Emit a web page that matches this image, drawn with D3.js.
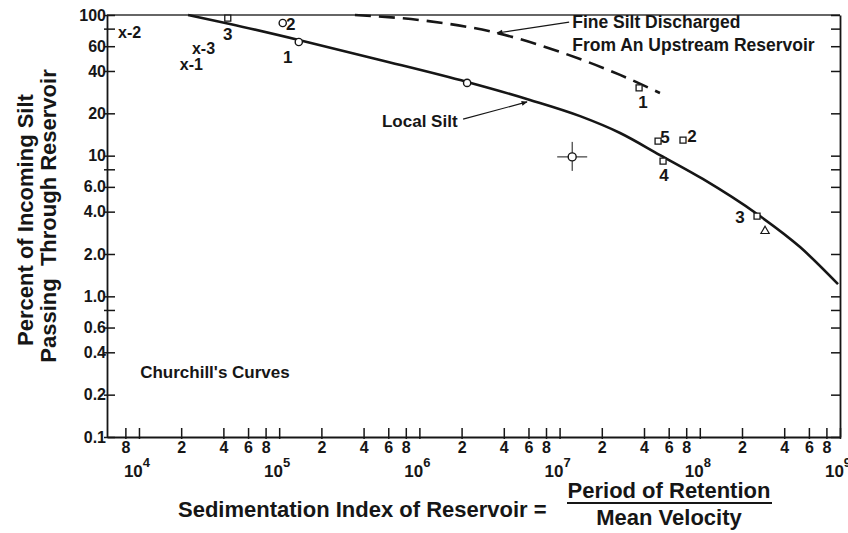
<!DOCTYPE html>
<html>
<head>
<meta charset="utf-8">
<script src="https://cdn.jsdelivr.net/npm/d3@7"></script>
<style>
  body { margin: 0; background: #fff; }
  text { font-family: "Liberation Sans", Arial, Helvetica, sans-serif; fill: #161616; }
</style>
</head>
<body>
<svg id="chart" width="848" height="533"></svg>
<script>
// ---- data ----
var yTicks = [100, 80, 60, 40, 20, 10, 8, 6, 4, 2, 1, 0.8, 0.6, 0.4, 0.2, 0.1];
var yTickText = ["100", "", "60", "40", "20", "10", "", "6.0", "4.0", "2.0", "1.0", "", "0.6", "0.4", "0.2", "0.1"];
var xMinorTicks = [8e3, 2e4, 4e4, 6e4, 8e4, 2e5, 4e5, 6e5, 8e5, 2e6, 4e6, 6e6, 8e6,
                   2e7, 4e7, 6e7, 8e7, 2e8, 4e8, 6e8, 8e8];
var xMinorText = ["8", "2", "4", "6", "8", "2", "4", "6", "8", "2", "4", "6", "8",
                  "2", "4", "6", "8", "2", "4", "6", "8"];
var xDecades = [1e4, 1e5, 1e6, 1e7, 1e8, 1e9];
var xDecadeExp = ["4", "5", "6", "7", "8", "9"];

// Local Silt curve (solid)
var localSiltX = [2.24e4, 4.46e4, 1.38e5, 5.24e5, 2.19e6, 6.15e6, 1.40e7, 2.70e7, 5.2e7, 1.05e8, 2.56e8, 5.19e8, 9.68e8];
var localSiltY = [100, 86.3, 66.4, 47.9, 33.4, 24.9, 19.1, 14.5, 10.1, 6.83, 3.85, 2.24, 1.22];

// Fine silt discharged from an upstream reservoir (dashed)
var fineSiltX = [3.47e5, 1.01e6, 3.58e6, 1.01e7, 2.70e7, 5.2e7];
var fineSiltY = [100, 92, 74.5, 54.6, 37.5, 27.9];

// observed reservoirs
var squareX = [4.3e4, 3.69e7, 5.04e7, 7.59e7, 5.47e7, 2.56e8];
var squareY = [95, 30.3, 12.7, 12.9, 9.16, 3.72];
var squareLabel = ["3", "1", "5", "2", "4", "3"];

var circleX = [1.06e5, 1.38e5, 2.19e6];
var circleY = [87.7, 64.3, 32.9];
var circleLabel = ["2", "1", ""];

var crossX = [1.23e7];
var crossY = [9.8];

var triangleX = [2.92e8];
var triangleY = [2.91];

var xMarkX = [7.57e3, 2.55e4, 2.09e4];
var xMarkY = [74.3, 57.3, 44.1];
var xMarkLabel = ["x-2", "x-3", "x-1"];

// label placement (pixel offsets from each marker)
var squareLabelOffset = [[0, 22], [4, 20], [7, 2], [9, 2], [1, 20], [-17, 7]];
var circleLabelOffset = [[8, 7], [-11, 21], [0, 0]];

// ---- chart ----
var svg = d3.select("#chart");
var plotLeft = 107, plotRight = 840, plotTop = 15, plotBottom = 437;

var x = d3.scaleLog().domain([Math.pow(10, 3.772), 1e9]).range([plotLeft, plotRight]);
var y = d3.scaleLog().domain([0.1, 100]).range([plotBottom, plotTop]);

var ink = "#161616";

// frame: top line
svg.append("line")
  .attr("x1", plotLeft).attr("x2", plotRight).attr("y1", y(100)).attr("y2", y(100))
  .attr("stroke", "#333").attr("stroke-width", 1.5);

// left axis
var yAxis = d3.axisLeft(y).tickValues(yTicks)
  .tickFormat(function(d, i) { return yTickText[i]; })
  .tickSizeInner(-8).tickSizeOuter(0).tickPadding(1);
var gy = svg.append("g").attr("transform", "translate(" + plotLeft + ",0)").call(yAxis);
gy.selectAll("text").style("font-size", "16px").style("font-weight", "bold").attr("fill", ink)
  .style("font-family", "'Liberation Sans', Arial, sans-serif");
gy.selectAll("line").attr("stroke", ink).attr("stroke-width", 1.5).attr("x1", -3);
gy.select(".domain").attr("stroke", ink).attr("stroke-width", 1.8);

// right axis (ticks only)
var yAxisR = d3.axisRight(y).tickValues(yTicks).tickFormat("")
  .tickSizeInner(-9).tickSizeOuter(0);
var gr = svg.append("g").attr("transform", "translate(" + plotRight + ",0)").call(yAxisR);
gr.selectAll("line").attr("stroke", ink).attr("stroke-width", 1.5);
gr.select(".domain").attr("stroke", ink).attr("stroke-width", 1.8);

// bottom axis
var xAxis = d3.axisBottom(x).tickValues(xMinorTicks.concat(xDecades))
  .tickFormat(function(d) {
    var i = xMinorTicks.indexOf(d);
    return i >= 0 ? xMinorText[i] : "";
  })
  .tickSizeInner(-9).tickSizeOuter(0).tickPadding(5);
var gx = svg.append("g").attr("transform", "translate(0," + plotBottom + ")").call(xAxis);
gx.selectAll("text").style("font-size", "16px").style("font-weight", "bold").attr("fill", ink)
  .style("font-family", "'Liberation Sans', Arial, sans-serif");
gx.selectAll("line").attr("stroke", ink).attr("stroke-width", 1.5).attr("y1", 2);
gx.select(".domain").attr("stroke", ink).attr("stroke-width", 1.8);

// decade labels 10^n
var dec = svg.append("g").selectAll("text").data(xDecades).enter().append("text")
  .attr("x", function(d) { return x(d) - 2; })
  .attr("y", 477)
  .attr("text-anchor", "middle")
  .style("font-size", "17px").style("font-weight", "bold");
dec.append("tspan").text("10");
dec.append("tspan").attr("dy", -10).style("font-size", "13px")
  .text(function(d, i) { return xDecadeExp[i]; });

// curves
var line = d3.line()
  .x(function(d) { return x(d[0]); })
  .y(function(d) { return y(d[1]); })
  .curve(d3.curveMonotoneX);

svg.append("path")
  .datum(d3.zip(localSiltX, localSiltY))
  .attr("d", line)
  .attr("fill", "none").attr("stroke", ink).attr("stroke-width", 2.6);

svg.append("path")
  .datum(d3.zip(fineSiltX, fineSiltY))
  .attr("d", line)
  .attr("fill", "none").attr("stroke", ink).attr("stroke-width", 2.6)
  .attr("stroke-dasharray", "16,8");

// squares
var squares = d3.zip(squareX, squareY, squareLabel, squareLabelOffset);
svg.append("g").selectAll("path").data(squares).enter().append("path")
  .attr("d", d3.symbol().type(d3.symbolSquare).size(36))
  .attr("transform", function(d) { return "translate(" + x(d[0]) + "," + y(d[1]) + ")"; })
  .attr("fill", "#fff").attr("stroke", ink).attr("stroke-width", 1.3);
svg.append("g").selectAll("text").data(squares).enter().append("text")
  .attr("x", function(d) { return x(d[0]) + d[3][0]; })
  .attr("y", function(d) { return y(d[1]) + d[3][1]; })
  .attr("text-anchor", "middle")
  .style("font-size", "17px").style("font-weight", "bold")
  .text(function(d) { return d[2]; });

// circles
var circles = d3.zip(circleX, circleY, circleLabel, circleLabelOffset);
svg.append("g").selectAll("circle").data(circles).enter().append("circle")
  .attr("cx", function(d) { return x(d[0]); })
  .attr("cy", function(d) { return y(d[1]); })
  .attr("r", 3.6)
  .attr("fill", "#fff").attr("stroke", ink).attr("stroke-width", 1.4);
svg.append("g").selectAll("text").data(circles).enter().append("text")
  .attr("x", function(d) { return x(d[0]) + d[3][0]; })
  .attr("y", function(d) { return y(d[1]) + d[3][1]; })
  .attr("text-anchor", "middle")
  .style("font-size", "17px").style("font-weight", "bold")
  .text(function(d) { return d[2]; });

// circle with cross hairs
var cross = svg.append("g").selectAll("g").data(d3.zip(crossX, crossY)).enter().append("g")
  .attr("transform", function(d) { return "translate(" + x(d[0]) + "," + y(d[1]) + ")"; });
cross.append("line").attr("x1", -15).attr("x2", 15).attr("stroke", ink).attr("stroke-width", 1);
cross.append("line").attr("y1", -15).attr("y2", 14).attr("stroke", ink).attr("stroke-width", 1);
cross.append("circle").attr("r", 4).attr("fill", "#fff").attr("stroke", ink).attr("stroke-width", 1.4);

// triangle
svg.append("g").selectAll("path").data(d3.zip(triangleX, triangleY)).enter().append("path")
  .attr("d", d3.symbol().type(d3.symbolTriangle).size(30))
  .attr("transform", function(d) { return "translate(" + x(d[0]) + "," + y(d[1]) + ")"; })
  .attr("fill", "#fff").attr("stroke", ink).attr("stroke-width", 1.2);

// x-marked points
svg.append("g").selectAll("text").data(d3.zip(xMarkX, xMarkY, xMarkLabel)).enter().append("text")
  .attr("x", function(d) { return x(d[0]) - 4; })
  .attr("y", function(d) { return y(d[1]) + 5; })
  .style("font-size", "16px").style("font-weight", "bold")
  .text(function(d) { return d[2]; });

// annotations
svg.append("defs").append("marker")
  .attr("id", "arrow").attr("viewBox", "0 0 10 10").attr("refX", 9).attr("refY", 5)
  .attr("markerWidth", 6).attr("markerHeight", 5).attr("orient", "auto")
  .append("path").attr("d", "M0,1 L10,5 L0,9 Z").attr("fill", ink);

svg.append("line")
  .attr("x1", x(1.17e7)).attr("y1", y(89.1)).attr("x2", x(3.58e6)).attr("y2", y(74.5))
  .attr("stroke", ink).attr("stroke-width", 1.2).attr("marker-end", "url(#arrow)");
svg.append("text").attr("x", x(1.23e7)).attr("y", y(80.8))
  .style("font-size", "17.5px").style("font-weight", "bold").text("Fine Silt Discharged");
svg.append("text").attr("x", x(1.23e7)).attr("y", y(55.5))
  .style("font-size", "17.5px").style("font-weight", "bold").text("From An Upstream Reservoir");

svg.append("line")
  .attr("x1", x(2.05e6)).attr("y1", y(18.2)).attr("x2", x(5.86e6)).attr("y2", y(24.1))
  .attr("stroke", ink).attr("stroke-width", 1.2).attr("marker-end", "url(#arrow)");
svg.append("text").attr("x", x(5.41e5)).attr("y", y(16.0))
  .style("font-size", "17px").style("font-weight", "bold").text("Local Silt");

svg.append("text").attr("x", x(1.02e4)).attr("y", y(0.263))
  .style("font-size", "17px").style("font-weight", "bold").text("Churchill's Curves");

// axis titles
svg.append("text").attr("transform", "translate(33,220) rotate(-90)")
  .attr("text-anchor", "middle").style("font-size", "22px").style("font-weight", "bold")
  .text("Percent of Incoming Silt");
svg.append("text").attr("transform", "translate(56,216) rotate(-90)")
  .attr("text-anchor", "middle").style("font-size", "22px").style("font-weight", "bold")
  .style("white-space", "pre")
  .text("Passing  Through Reservoir");

svg.append("text").attr("x", 178).attr("y", 517)
  .style("font-size", "22px").style("font-weight", "bold")
  .text("Sedimentation Index of Reservoir =");
svg.append("text").attr("x", 669).attr("y", 498).attr("text-anchor", "middle")
  .style("font-size", "22px").style("font-weight", "bold").text("Period of Retention");
svg.append("line").attr("x1", 567).attr("x2", 772).attr("y1", 503).attr("y2", 503)
  .attr("stroke", ink).attr("stroke-width", 2);
svg.append("text").attr("x", 669).attr("y", 525).attr("text-anchor", "middle")
  .style("font-size", "22px").style("font-weight", "bold").text("Mean Velocity");
</script>
</body>
</html>
